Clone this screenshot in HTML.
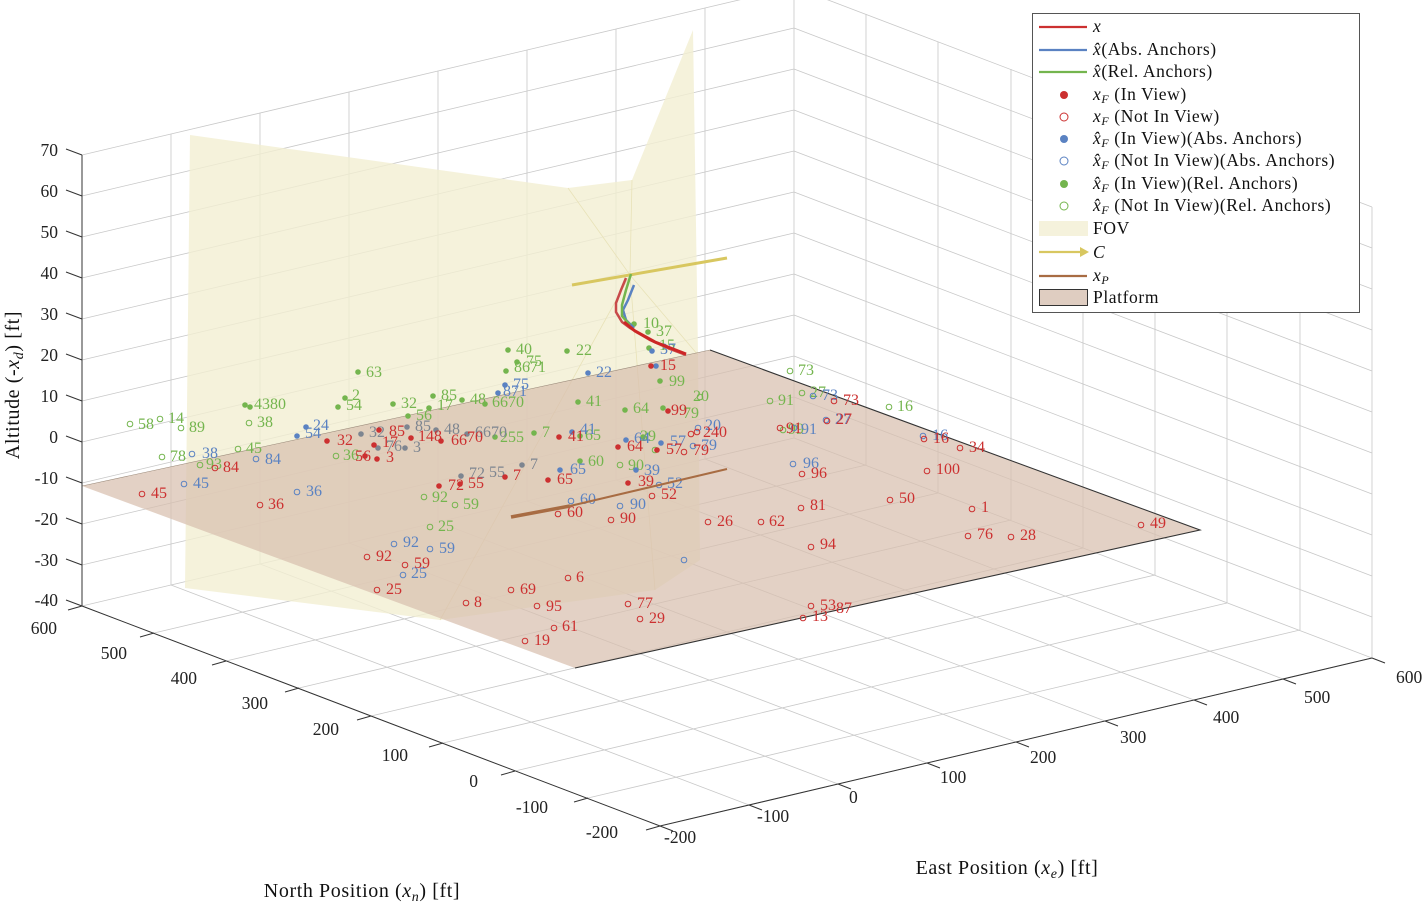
<!DOCTYPE html>
<html><head><meta charset="utf-8"><style>
body{margin:0;background:#fff}
svg{display:block;font-family:"Liberation Serif",serif}
.gr{stroke:#c8c8c8;stroke-width:0.8;fill:none}
.ax{stroke:#333;stroke-width:1;fill:none}
.tk{font-size:17.5px;fill:#222}
.r{fill:#cc3030;font-size:16px}.b{fill:#5a82c2;font-size:16px}.g{fill:#74b54e;font-size:16px}.k{fill:#7d8590;font-size:16px}
.rf{fill:#cc3030}.bf{fill:#5a82c2}.gf{fill:#74b54e}.kf{fill:#7d8590}
.ro{fill:none;stroke:#cc3030;stroke-width:1}.bo{fill:none;stroke:#5a82c2;stroke-width:1}.go{fill:none;stroke:#74b54e;stroke-width:1}
.lg{font-size:17.5px;fill:#111;letter-spacing:0.6px}
</style></head><body>
<svg width="1428" height="905" viewBox="0 0 1428 905" xmlns="http://www.w3.org/2000/svg">
<g class="gr">
<path d="M82,606V155M171,585V134M260,564V113M349,543V92M438,522V71M527,501V50M616,480V29M705,459V8M794,438V-13"/>
<path d="M82,606L794,438M82,565L794,397M82,524L794,356M82,483L794,315M82,442L794,274M82,401L794,233M82,360L794,192M82,319L794,151M82,278L794,110M82,237L794,69M82,196L794,28M82,155L794,-13"/>
<path d="M1372,658V207M1300,630V179M1227,603V152M1155,575V124M1083,548V97M1011,520V69M938,493V42M866,465V14"/>
<path d="M1372,658L794,438M1372,617L794,397M1372,576L794,356M1372,535L794,315M1372,494L794,274M1372,453L794,233M1372,412L794,192M1372,371L794,151M1372,330L794,110M1372,289L794,69M1372,248L794,28M1372,207L794,-13"/>
<path d="M660,826L1372,658M588,798L1300,630M515,771L1227,603M443,743L1155,575M371,716L1083,548M299,688L1011,520M226,661L938,493M154,633L866,465"/>
<path d="M660,826L82,606M749,805L171,585M838,784L260,564M927,763L349,543M1016,742L438,522M1105,721L527,501M1194,700L616,480M1283,679L705,459"/>
</g>
<polygon points="190,135 568,188 632,180 693,30 698,355 700,560 655,590 440,620 185,588" fill="#f2efd2" opacity="0.8"/>
<g stroke="#e8e2b8" stroke-width="0.8" fill="none"><path d="M568,188L630,275L698,355M630,275L440,620M630,275L655,590M630,275L632,180"/></g>
<polygon points="82,486 710,350 1200,530 575,668" fill="#d8bfae" opacity="0.72"/>
<path d="M710,350L1200,530L575,668" stroke="#333" stroke-width="1.1" fill="none"/>
<path d="M82,486L710,350" stroke="#9a8a7a" stroke-width="0.6" fill="none"/>
<g class="ax">
<path d="M82,155V606L660,826L1372,658"/>
<path d="M82,606l-16,-6M82,565l-16,-6M82,524l-16,-6M82,483l-16,-6M82,442l-16,-6M82,401l-16,-6M82,360l-16,-6M82,319l-16,-6M82,278l-16,-6M82,237l-16,-6M82,196l-16,-6M82,155l-16,-6"/>
<path d="M82,606l-14,4M154,633l-14,4M226,661l-14,4M299,688l-14,4M371,716l-14,4M443,743l-14,4M515,771l-14,4M588,798l-14,4M660,826l-14,4"/>
<path d="M660,826l13,5M749,805l13,5M838,784l13,5M927,763l13,5M1016,742l13,5M1105,721l13,5M1194,700l13,5M1283,679l13,5M1372,658l13,5"/>
</g>
<g class="tk" text-anchor="end">
<text x="58" y="606">-40</text><text x="58" y="566">-30</text><text x="58" y="525">-20</text><text x="58" y="484">-10</text><text x="58" y="443">0</text><text x="58" y="402">10</text><text x="58" y="361">20</text><text x="58" y="320">30</text><text x="58" y="279">40</text><text x="58" y="238">50</text><text x="58" y="197">60</text><text x="58" y="156">70</text>
<text x="57" y="634">600</text><text x="127" y="659">500</text><text x="197" y="684">400</text><text x="268" y="709">300</text><text x="339" y="735">200</text><text x="408" y="761">100</text><text x="478" y="787">0</text><text x="548" y="813">-100</text><text x="618" y="838">-200</text>
</g>
<g class="tk">
<text x="664" y="843">-200</text><text x="757" y="822">-100</text><text x="849" y="803">0</text><text x="940" y="783">100</text><text x="1030" y="763">200</text><text x="1120" y="743">300</text><text x="1213" y="723">400</text><text x="1304" y="703">500</text><text x="1396" y="683">600</text>
</g>
<text transform="translate(19,385) rotate(-90)" text-anchor="middle" font-size="20" fill="#111" letter-spacing="0.6">Altitude (-<tspan font-style="italic">x</tspan><tspan font-size="14" font-style="italic" dy="4">d</tspan><tspan dy="-4">) [ft]</tspan></text>
<text x="362" y="897" text-anchor="middle" font-size="20" fill="#111" letter-spacing="0.6">North Position (<tspan font-style="italic">x</tspan><tspan font-size="14" font-style="italic" dy="4">n</tspan><tspan dy="-4">) [ft]</tspan></text>
<text x="1007" y="874" text-anchor="middle" font-size="20" fill="#111" letter-spacing="0.6">East Position (<tspan font-style="italic">x</tspan><tspan font-size="14" font-style="italic" dy="4">e</tspan><tspan dy="-4">) [ft]</tspan></text>

<g>
<circle class="go" cx="130" cy="424" r="2.8"/><text class="g" x="138" y="429">58</text>
<circle class="go" cx="160" cy="419" r="2.8"/><text class="g" x="168" y="423">14</text>
<circle class="go" cx="181" cy="428" r="2.8"/><text class="g" x="189" y="432">89</text>
<circle class="go" cx="249" cy="423" r="2.8"/><text class="g" x="257" y="427">38</text>
<circle class="go" cx="238" cy="449" r="2.8"/><text class="g" x="246" y="453">45</text>
<circle class="go" cx="162" cy="457" r="2.8"/><text class="g" x="170" y="461">78</text>
<circle class="go" cx="200" cy="465" r="2.8"/><text class="g" x="206" y="469">93</text>
<circle class="go" cx="424" cy="497" r="2.8"/><text class="g" x="432" y="502">92</text>
<circle class="go" cx="455" cy="505" r="2.8"/><text class="g" x="463" y="509">59</text>
<circle class="go" cx="430" cy="527" r="2.8"/><text class="g" x="438" y="531">25</text>
<circle class="go" cx="620" cy="465" r="2.8"/><text class="g" x="628" y="470">90</text>
<circle class="go" cx="790" cy="371" r="2.8"/><text class="g" x="798" y="375">73</text>
<circle class="go" cx="770" cy="401" r="2.8"/><text class="g" x="778" y="405">91</text>
<circle class="go" cx="802" cy="393" r="2.8"/><text class="g" x="810" y="397">27</text>
<circle class="go" cx="889" cy="407" r="2.8"/><text class="g" x="897" y="411">16</text>
<circle class="go" cx="783" cy="430" r="2.8"/><text class="g" x="788" y="434">99</text>
<circle class="go" cx="336" cy="456" r="2.8"/><text class="g" x="343" y="460">36</text>
<circle class="go" cx="700" cy="397" r="2.8"/><text class="g" x="693" y="401">20</text>
<circle class="go" cx="655" cy="450" r="2.8"/>
</g>
<g>
<circle class="gf" cx="358" cy="372" r="2.8"/><text class="g" x="366" y="377">63</text>
<circle class="gf" cx="345" cy="398" r="2.8"/><text class="g" x="352" y="400">2</text>
<circle class="gf" cx="338" cy="407" r="2.8"/><text class="g" x="346" y="410">54</text>
<circle class="gf" cx="393" cy="404" r="2.8"/><text class="g" x="401" y="408">32</text>
<circle class="gf" cx="245" cy="405" r="2.8"/><circle class="gf" cx="250" cy="407" r="2.8"/><text class="g" x="254" y="409">4380</text>
<circle class="gf" cx="433" cy="396" r="2.8"/><text class="g" x="441" y="400">85</text>
<circle class="gf" cx="429" cy="408" r="2.8"/><text class="g" x="437" y="410">17</text>
<circle class="gf" cx="408" cy="416" r="2.8"/><text class="g" x="416" y="420">56</text>
<circle class="gf" cx="462" cy="400" r="2.8"/><text class="g" x="470" y="404">48</text>
<circle class="gf" cx="485" cy="404" r="2.8"/><text class="g" x="492" y="407">6670</text>
<circle class="gf" cx="508" cy="350" r="2.8"/><text class="g" x="516" y="354">40</text>
<circle class="gf" cx="517" cy="362" r="2.8"/><text class="g" x="526" y="366">75</text>
<circle class="gf" cx="506" cy="371" r="2.8"/><text class="g" x="514" y="372">8671</text>
<circle class="gf" cx="567" cy="351" r="2.8"/><text class="g" x="576" y="355">22</text>
<circle class="gf" cx="578" cy="402" r="2.8"/><text class="g" x="586" y="406">41</text>
<circle class="gf" cx="634" cy="324" r="2.8"/><text class="g" x="643" y="328">10</text>
<circle class="gf" cx="648" cy="332" r="2.8"/><text class="g" x="656" y="336">37</text>
<circle class="gf" cx="649" cy="348" r="2.8"/><text class="g" x="659" y="350">15</text>
<circle class="gf" cx="660" cy="381" r="2.8"/><text class="g" x="669" y="386">99</text>
<circle class="gf" cx="625" cy="410" r="2.8"/><text class="g" x="633" y="413">64</text>
<circle class="gf" cx="534" cy="433" r="2.8"/><text class="g" x="542" y="437">7</text>
<circle class="gf" cx="495" cy="437" r="2.8"/><text class="g" x="500" y="442">255</text>
<circle class="gf" cx="643" cy="437" r="2.8"/><text class="g" x="640" y="441">39</text>
<circle class="gf" cx="580" cy="461" r="2.8"/><text class="g" x="588" y="466">60</text>
<circle class="gf" cx="663" cy="408" r="2.8"/><text class="g" x="683" y="418">79</text>
<circle class="gf" cx="580" cy="436" r="2.8"/><text class="g" x="585" y="440">65</text>
</g>
<g>
<circle class="bf" cx="297" cy="436" r="2.8"/><text class="b" x="305" y="438">54</text>
<circle class="bf" cx="306" cy="427" r="2.8"/><text class="b" x="313" y="430">24</text>
<circle class="kf" cx="361" cy="434" r="2.8"/><text class="k" x="369" y="437">32</text>
<circle class="kf" cx="407" cy="427" r="2.8"/><text class="k" x="415" y="431">85</text>
<circle class="kf" cx="378" cy="448" r="2.8"/><text class="k" x="386" y="451">76</text>
<circle class="kf" cx="405" cy="448" r="2.8"/><text class="k" x="413" y="452">3</text>
<circle class="kf" cx="436" cy="430" r="2.8"/><text class="k" x="444" y="434">48</text>
<circle class="kf" cx="467" cy="434" r="2.8"/><text class="k" x="475" y="437">6670</text>
<circle class="kf" cx="461" cy="476" r="2.8"/><text class="k" x="469" y="478">72</text><text class="k" x="489" y="477">55</text>
<circle class="kf" cx="522" cy="465" r="2.8"/><text class="k" x="530" y="469">7</text>
<circle class="bf" cx="560" cy="470" r="2.8"/><text class="b" x="570" y="474">65</text>
<circle class="bf" cx="572" cy="432" r="2.8"/><text class="b" x="580" y="434">41</text>
<circle class="bf" cx="626" cy="440" r="2.8"/><text class="b" x="634" y="443">64</text>
<circle class="bf" cx="661" cy="443" r="2.8"/><text class="b" x="670" y="446">57</text>
<circle class="bf" cx="588" cy="373" r="2.8"/><text class="b" x="596" y="377">22</text>
<circle class="bf" cx="505" cy="385" r="2.8"/><text class="b" x="513" y="389">75</text>
<circle class="bf" cx="498" cy="393" r="2.8"/><text class="b" x="503" y="396">871</text>
<circle class="bf" cx="652" cy="351" r="2.8"/><text class="b" x="660" y="354">37</text>
<circle class="bf" cx="656" cy="366" r="2.8"/>
<circle class="bf" cx="636" cy="470" r="2.8"/><text class="b" x="644" y="475">39</text>
</g>
<g>
<circle class="bo" cx="192" cy="454" r="2.8"/><text class="b" x="202" y="458">38</text>
<circle class="bo" cx="256" cy="459" r="2.8"/><text class="b" x="265" y="464">84</text>
<circle class="bo" cx="184" cy="484" r="2.8"/><text class="b" x="193" y="488">45</text>
<circle class="bo" cx="297" cy="492" r="2.8"/><text class="b" x="306" y="496">36</text>
<circle class="bo" cx="394" cy="544" r="2.8"/><text class="b" x="403" y="547">92</text>
<circle class="bo" cx="430" cy="549" r="2.8"/><text class="b" x="439" y="553">59</text>
<circle class="bo" cx="403" cy="575" r="2.8"/><text class="b" x="411" y="578">25</text>
<circle class="bo" cx="571" cy="501" r="2.8"/><text class="b" x="580" y="504">60</text>
<circle class="bo" cx="620" cy="506" r="2.8"/><text class="b" x="630" y="509">90</text>
<circle class="bo" cx="659" cy="485" r="2.8"/><text class="b" x="667" y="488">52</text>
<circle class="bo" cx="693" cy="446" r="2.8"/><text class="b" x="701" y="450">79</text>
<circle class="bo" cx="698" cy="428" r="2.8"/><text class="b" x="705" y="430">20</text>
<circle class="bo" cx="793" cy="464" r="2.8"/><text class="b" x="803" y="468">96</text>
<circle class="bo" cx="813" cy="396" r="2.8"/><text class="b" x="822" y="400">73</text>
<circle class="bo" cx="826" cy="420" r="2.8"/><text class="b" x="835" y="424">27</text>
<circle class="bo" cx="923" cy="436" r="2.8"/><text class="b" x="932" y="440">16</text>
<circle class="bo" cx="794" cy="428" r="2.8"/><text class="b" x="801" y="434">91</text>
<circle class="bo" cx="684" cy="560" r="2.8" stroke="#3c8a92"/>
</g>
<g>
<circle class="rf" cx="327" cy="441" r="2.8"/><text class="r" x="337" y="445">32</text>
<circle class="rf" cx="379" cy="430" r="2.8"/><text class="r" x="389" y="436">85</text>
<circle class="rf" cx="374" cy="445" r="2.8"/><text class="r" x="382" y="447">17</text>
<circle class="rf" cx="411" cy="438" r="2.8"/><text class="r" x="418" y="441">148</text>
<circle class="rf" cx="365" cy="456" r="2.8"/><text class="r" x="355" y="461">56</text>
<circle class="rf" cx="377" cy="459" r="2.8"/><text class="r" x="386" y="462">3</text>
<circle class="rf" cx="441" cy="441" r="2.8"/><text class="r" x="451" y="445">66</text><text class="r" x="467" y="442">70</text>
<circle class="rf" cx="439" cy="486" r="2.8"/><text class="r" x="448" y="490">72</text>
<circle class="rf" cx="460" cy="484" r="2.8"/><text class="r" x="468" y="488">55</text>
<circle class="rf" cx="505" cy="477" r="2.8"/><text class="r" x="513" y="480">7</text>
<circle class="rf" cx="548" cy="480" r="2.8"/><text class="r" x="557" y="484">65</text>
<circle class="rf" cx="559" cy="437" r="2.8"/><text class="r" x="568" y="441">41</text>
<circle class="rf" cx="618" cy="447" r="2.8"/><text class="r" x="627" y="451">64</text>
<circle class="rf" cx="657" cy="450" r="2.8"/><text class="r" x="666" y="454">57</text>
<circle class="rf" cx="628" cy="483" r="2.8"/><text class="r" x="638" y="486">39</text>
<circle class="rf" cx="651" cy="366" r="2.8"/><text class="r" x="660" y="370">15</text>
<circle class="rf" cx="668" cy="411" r="2.8"/><text class="r" x="671" y="415">99</text>
</g>
<g>
<circle class="ro" cx="142" cy="494" r="2.8"/><text class="r" x="151" y="498">45</text>
<circle class="ro" cx="215" cy="468" r="2.8"/><text class="r" x="223" y="472">84</text>
<circle class="ro" cx="260" cy="505" r="2.8"/><text class="r" x="268" y="509">36</text>
<circle class="ro" cx="367" cy="557" r="2.8"/><text class="r" x="376" y="561">92</text>
<circle class="ro" cx="405" cy="565" r="2.8"/><text class="r" x="414" y="568">59</text>
<circle class="ro" cx="377" cy="590" r="2.8"/><text class="r" x="386" y="594">25</text>
<circle class="ro" cx="466" cy="603" r="2.8"/><text class="r" x="474" y="607">8</text>
<circle class="ro" cx="511" cy="590" r="2.8"/><text class="r" x="520" y="594">69</text>
<circle class="ro" cx="537" cy="606" r="2.8"/><text class="r" x="546" y="611">95</text>
<circle class="ro" cx="525" cy="641" r="2.8"/><text class="r" x="534" y="645">19</text>
<circle class="ro" cx="554" cy="628" r="2.8"/><text class="r" x="562" y="631">61</text>
<circle class="ro" cx="568" cy="578" r="2.8"/><text class="r" x="576" y="582">6</text>
<circle class="ro" cx="628" cy="604" r="2.8"/><text class="r" x="637" y="608">77</text>
<circle class="ro" cx="640" cy="619" r="2.8"/><text class="r" x="649" y="623">29</text>
<circle class="ro" cx="558" cy="514" r="2.8"/><text class="r" x="567" y="517">60</text>
<circle class="ro" cx="611" cy="520" r="2.8"/><text class="r" x="620" y="523">90</text>
<circle class="ro" cx="652" cy="496" r="2.8"/><text class="r" x="661" y="499">52</text>
<circle class="ro" cx="708" cy="522" r="2.8"/><text class="r" x="717" y="526">26</text>
<circle class="ro" cx="761" cy="522" r="2.8"/><text class="r" x="769" y="526">62</text>
<circle class="ro" cx="802" cy="474" r="2.8"/><text class="r" x="811" y="478">96</text>
<circle class="ro" cx="801" cy="508" r="2.8"/><text class="r" x="810" y="510">81</text>
<circle class="ro" cx="811" cy="547" r="2.8"/><text class="r" x="820" y="549">94</text>
<circle class="ro" cx="890" cy="500" r="2.8"/><text class="r" x="899" y="503">50</text>
<circle class="ro" cx="927" cy="471" r="2.8"/><text class="r" x="936" y="474">100</text>
<circle class="ro" cx="972" cy="509" r="2.8"/><text class="r" x="981" y="512">1</text>
<circle class="ro" cx="968" cy="536" r="2.8"/><text class="r" x="977" y="539">76</text>
<circle class="ro" cx="1011" cy="537" r="2.8"/><text class="r" x="1020" y="540">28</text>
<circle class="ro" cx="1141" cy="525" r="2.8"/><text class="r" x="1150" y="528">49</text>
<circle class="ro" cx="960" cy="448" r="2.8"/><text class="r" x="969" y="452">34</text>
<circle class="ro" cx="924" cy="439" r="2.8"/><text class="r" x="933" y="443">16</text>
<circle class="ro" cx="834" cy="401" r="2.8"/><text class="r" x="843" y="405">73</text>
<circle class="ro" cx="827" cy="421" r="2.8"/><text class="r" x="836" y="424">27</text>
<circle class="ro" cx="780" cy="428" r="2.8"/><text class="r" x="786" y="433">91</text>
<circle class="ro" cx="811" cy="606" r="2.8"/><text class="r" x="820" y="610">53</text><text class="r" x="836" y="613">87</text>
<circle class="ro" cx="803" cy="618" r="2.8"/><text class="r" x="812" y="621">13</text>
<circle class="ro" cx="691" cy="434" r="2.8"/><circle class="ro" cx="697" cy="432" r="2.8"/><text class="r" x="703" y="437">240</text>
<circle class="ro" cx="684" cy="452" r="2.8"/><text class="r" x="693" y="455">79</text>
</g>
<path d="M572,285L727,258" stroke="#d8c760" stroke-width="3" fill="none"/>
<path d="M626,278L621,290L616,303L616,312L622,322L630,328L650,340L670,349L686,355" stroke="#c84a4a" stroke-width="2.5" fill="none"/>
<path d="M634,285L628,300L623,310L626,320L634,328" stroke="#5a82c2" stroke-width="2.5" fill="none"/>
<path d="M631,274L626,290L622,305L622,316L630,325" stroke="#74b54e" stroke-width="2.5" fill="none"/>
<path d="M624,322L635,331L655,342L686,354" stroke="#cc2626" stroke-width="3" fill="none"/>
<path d="M511,517L570,506" stroke="#a86c43" stroke-width="3.5" fill="none"/>
<path d="M570,506L727,469" stroke="#a86c43" stroke-width="2" fill="none"/>
<rect x="1032.5" y="13.5" width="327" height="299" fill="#fff" stroke="#555" stroke-width="1"/>
<g stroke-width="2.2">
<line x1="1039" y1="27" x2="1087" y2="27" stroke="#cc3030"/>
<line x1="1039" y1="50" x2="1087" y2="50" stroke="#5a82c2"/>
<line x1="1039" y1="72" x2="1087" y2="72" stroke="#74b54e"/>
<line x1="1039" y1="252" x2="1083" y2="252" stroke="#d8c760"/>
<line x1="1039" y1="276" x2="1087" y2="276" stroke="#a86c43"/>
</g>
<polygon points="1080,247 1089,252 1080,257" fill="#d8c760"/>
<circle cx="1064" cy="95" r="4" class="rf"/><circle cx="1064" cy="117" r="4" class="ro"/>
<circle cx="1064" cy="139" r="4" class="bf"/><circle cx="1064" cy="161" r="4" class="bo"/>
<circle cx="1064" cy="184" r="4" class="gf"/><circle cx="1064" cy="206" r="4" class="go"/>
<rect x="1039" y="221" width="49" height="15" fill="#f5f2dc"/>
<rect x="1039.5" y="289.5" width="48" height="16" fill="#dfcdc1" stroke="#333"/>
<g class="lg">
<text x="1093" y="32" font-style="italic">x</text>
<text x="1093" y="55"><tspan font-style="italic">x̂</tspan>(Abs. Anchors)</text>
<text x="1093" y="77"><tspan font-style="italic">x̂</tspan>(Rel. Anchors)</text>
<text x="1093" y="100"><tspan font-style="italic">x</tspan><tspan font-size="12" font-style="italic" dy="3">F</tspan><tspan dy="-3"> (In View)</tspan></text>
<text x="1093" y="122"><tspan font-style="italic">x</tspan><tspan font-size="12" font-style="italic" dy="3">F</tspan><tspan dy="-3"> (Not In View)</tspan></text>
<text x="1093" y="144"><tspan font-style="italic">x̂</tspan><tspan font-size="12" font-style="italic" dy="3">F</tspan><tspan dy="-3"> (In View)(Abs. Anchors)</tspan></text>
<text x="1093" y="166"><tspan font-style="italic">x̂</tspan><tspan font-size="12" font-style="italic" dy="3">F</tspan><tspan dy="-3"> (Not In View)(Abs. Anchors)</tspan></text>
<text x="1093" y="189"><tspan font-style="italic">x̂</tspan><tspan font-size="12" font-style="italic" dy="3">F</tspan><tspan dy="-3"> (In View)(Rel. Anchors)</tspan></text>
<text x="1093" y="211"><tspan font-style="italic">x̂</tspan><tspan font-size="12" font-style="italic" dy="3">F</tspan><tspan dy="-3"> (Not In View)(Rel. Anchors)</tspan></text>
<text x="1093" y="234">FOV</text>
<text x="1093" y="258" font-style="italic">C⃗</text>
<text x="1093" y="281"><tspan font-style="italic">x</tspan><tspan font-size="12" font-style="italic" dy="3">P</tspan></text>
<text x="1093" y="303">Platform</text>
</g>
</svg>
</body></html>
